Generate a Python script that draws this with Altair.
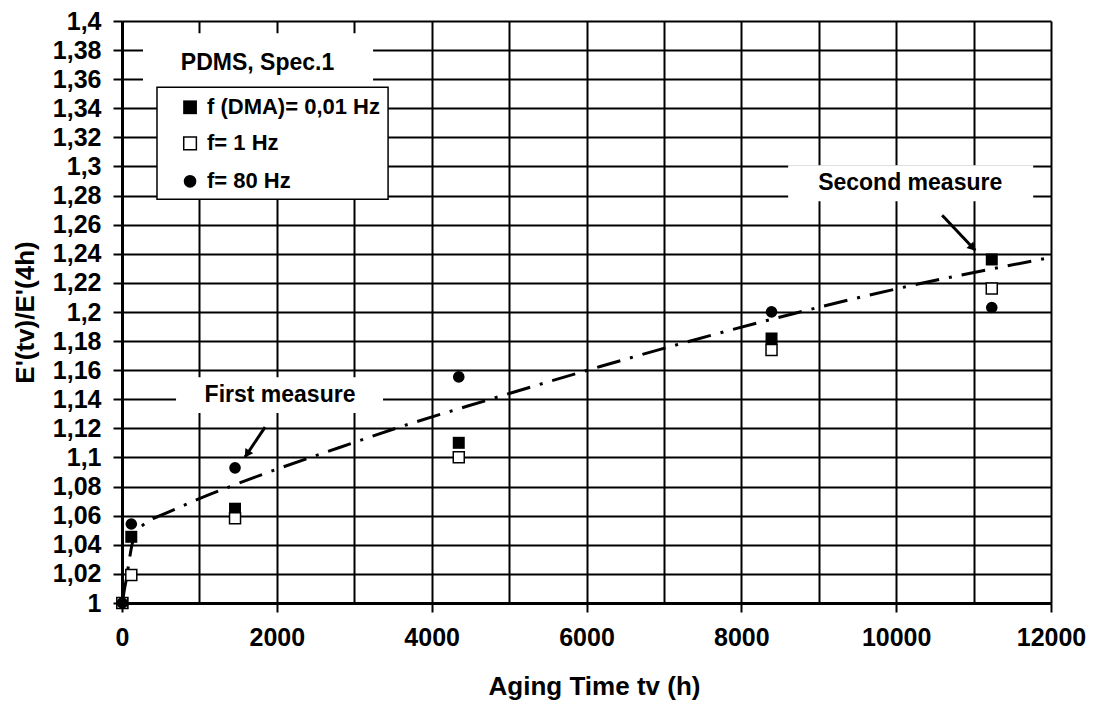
import altair as alt
import pandas as pd

# ---- data ----
hours = [4, 120, 1460, 4350, 8390, 11235]
f_001 = [1.000, 1.0455, 1.0648, 1.1101, 1.1818, 1.2361]   # f (DMA)= 0,01 Hz  (filled square)
f_1 = [1.000, 1.0192, 1.0582, 1.1001, 1.1738, 1.2161]     # f= 1 Hz (open square)
f_80 = [1.000, 1.0543, 1.0929, 1.1554, 1.2001, 1.2031]    # f= 80 Hz (filled circle)

trend_hours = [4, 30, 65, 90, 125, 194, 258, 362, 491, 711, 969, 1395, 1693, 2003,
               2800, 3592, 4755, 6176, 7235, 8721, 10052, 12000]
trend_ratio = [1.000, 1.009, 1.019, 1.028, 1.039, 1.050, 1.053, 1.057, 1.060, 1.065,
               1.071, 1.080, 1.086, 1.092, 1.1067, 1.121, 1.140, 1.1625, 1.1785,
               1.1995, 1.2165, 1.2375]

legend_title = "PDMS, Spec.1"
legend_labels = ["f (DMA)= 0,01 Hz", "f= 1 Hz", "f= 80 Hz"]
legend_rows = [1.3407, 1.3159, 1.2898]

notes = ["First measure", "Second measure"]
note_text_x = [2041, 10181]
note_text_y = [1.1429, 1.2885]
note_box_x = [698, 8605]
note_box_x2 = [3372, 11770]
note_box_y = [1.1305, 1.2761]
note_box_y2 = [1.1552, 1.3008]
arrow_from_x = [1848, 10594]
arrow_from_y = [1.1209, 1.2665]
arrow_to_x = [1589, 11021]
arrow_to_y = [1.1003, 1.2424]
arrow_head_x = [1625, 10977]
arrow_head_y = [1.1032, 1.2449]
arrow_angle = [214, 137]

x_ticks = list(range(0, 12001, 1000))
y_ticks = [round(1 + 0.02 * i, 2) for i in range(21)]

FONT = "Liberation Sans"

xs = alt.Scale(domain=[0, 12000], nice=False, zero=False)
ys = alt.Scale(domain=[1, 1.4], nice=False, zero=False)

X_AX = alt.Axis(
    values=x_ticks, grid=True, gridColor="black", gridWidth=2, gridOpacity=1,
    domainColor="black", domainWidth=3, tickColor="black", tickWidth=2, tickSize=9,
    tickOpacity={"condition": {"test": "datum.value % 2000 === 0", "value": 1}, "value": 0},
    labelExpr="datum.value % 2000 === 0 ? format(datum.value, 'd') : ''",
    labelFont=FONT, labelFontSize=25, labelFontWeight="bold", labelColor="black",
    labelPadding=13, labelFlush=False, labelOverlap=False,
    title="Aging Time tv (h)", titleFont=FONT, titleFontSize=26, titleFontWeight="bold",
    titleColor="black", titleX=472, titleY=91, titleBaseline="alphabetic",
)
Y_AX = alt.Axis(
    values=y_ticks, grid=True, gridColor="black", gridWidth=2, gridOpacity=1,
    domainColor="black", domainWidth=3, tickColor="black", tickWidth=2, tickSize=9,
    labelExpr="replace(format(datum.value, '.2~f'), '.', ',')",
    labelFont=FONT, labelFontSize=25, labelFontWeight="bold", labelColor="black",
    labelPadding=12, labelFlush=False, labelOverlap=False,
    title="E'(tv)/E'(4h)", titleFont=FONT, titleFontSize=26, titleFontWeight="bold",
    titleColor="black", titleX=-97, titleY=291, titleBaseline="middle", titleAngle=270,
)


def X(field):
    return alt.X(field, type="quantitative", scale=xs, axis=X_AX)


def Y(field):
    return alt.Y(field, type="quantitative", scale=ys, axis=Y_AX)


df_pts = pd.DataFrame({"h": hours, "a": f_001, "b": f_1, "c": f_80})
df_trend = pd.DataFrame({"h": trend_hours, "r": trend_ratio})

base = alt.Chart(df_pts)

# annotation boxes (white, hide grid)
df_notes = pd.DataFrame({
    "t": notes, "tx": note_text_x, "ty": note_text_y,
    "bx": note_box_x, "bx2": note_box_x2, "by": note_box_y, "by2": note_box_y2,
    "ax": arrow_from_x, "ay": arrow_from_y, "ax2": arrow_to_x, "ay2": arrow_to_y,
    "hx": arrow_head_x, "hy": arrow_head_y, "ang": arrow_angle,
})
note_boxes = alt.Chart(df_notes).mark_rect(fill="white").encode(
    x=X("bx"), x2="bx2:Q", y=Y("by"), y2="by2:Q",
)
note_text = alt.Chart(df_notes).mark_text(
    font=FONT, fontSize=23, fontWeight="bold", color="black", align="center", baseline="middle"
).encode(x=X("tx"), y=Y("ty"), text="t:N")
arrow_lines = alt.Chart(df_notes).mark_rule(color="black", strokeWidth=3).encode(
    x=X("ax"), x2="ax2:Q", y=Y("ay"), y2="ay2:Q",
)
arrow_heads = alt.Chart(df_notes).mark_point(
    shape="triangle", filled=True, color="black", size=90, opacity=1
).encode(x=X("hx"), y=Y("hy"), angle=alt.Angle("ang:Q", scale=None))

# legend (title box + bordered box)
df_leg_box = pd.DataFrame({"x": [271], "x2": [3243], "y": [1.3544], "y2": [1.3915]})
leg_title_box = alt.Chart(df_leg_box).mark_rect(fill="white").encode(
    x=X("x"), x2="x2:Q", y=Y("y"), y2="y2:Q",
)
df_leg_frame = pd.DataFrame({"x": [452], "x2": [3437], "y": [1.2775], "y2": [1.3544]})
leg_frame = alt.Chart(df_leg_frame).mark_rect(fill="white", stroke="black", strokeWidth=1.5).encode(
    x=X("x"), x2="x2:Q", y=Y("y"), y2="y2:Q",
)
df_leg_title = pd.DataFrame({"x": [1751], "y": [1.3709], "t": [legend_title]})
leg_title = alt.Chart(df_leg_title).mark_text(
    font=FONT, fontSize=23, fontWeight="bold", color="black", align="center", baseline="middle"
).encode(x=X("x"), y=Y("y"), text="t:N")

df_leg = pd.DataFrame({"mx": [879] * 3, "tx": [1098] * 3, "y": legend_rows, "t": legend_labels})
leg_text = alt.Chart(df_leg).mark_text(
    font=FONT, fontSize=22, fontWeight="bold", color="black", align="left", baseline="middle"
).encode(x=X("tx"), y=Y("y"), text="t:N")
leg_m1 = alt.Chart(df_leg.iloc[[0]]).mark_point(
    shape="square", filled=True, color="black", size=190, opacity=1
).encode(x=X("mx"), y=Y("y"))
leg_m2 = alt.Chart(df_leg.iloc[[1]]).mark_point(
    shape="square", filled=True, fill="white", stroke="black", strokeWidth=1.5, size=160, opacity=1
).encode(x=X("mx"), y=Y("y"))
leg_m3 = alt.Chart(df_leg.iloc[[2]]).mark_point(
    shape="circle", filled=True, color="black", size=160, opacity=1
).encode(x=X("mx"), y=Y("y"))

# trend line (dash-dot)
trend = alt.Chart(df_trend).mark_line(
    color="black", strokeWidth=3, strokeDash=[24, 10, 3, 10], interpolate="monotone"
).encode(x=X("h"), y=Y("r"))

# data series
s1 = base.mark_point(shape="square", filled=True, color="black", size=144, opacity=1).encode(
    x=X("h"), y=Y("a"))
s2 = base.mark_point(shape="square", filled=True, fill="white", stroke="black", strokeWidth=1.5,
                     size=121, opacity=1).encode(x=X("h"), y=Y("b"))
s3 = base.mark_point(shape="circle", filled=True, color="black", size=135, opacity=1).encode(
    x=X("h"), y=Y("c"))

chart = alt.layer(
    note_boxes, leg_title_box, leg_frame, trend, arrow_lines, arrow_heads,
    note_text, leg_title, leg_text, leg_m1, leg_m2, leg_m3, s1, s2, s3,
).properties(
    width=929, height=582,
    autosize=alt.AutoSizeParams(type="none"),
    padding={"left": 122, "top": 21, "right": 44, "bottom": 103},
    background="white",
).configure_view(stroke=None)

chart.save("out.html", embed_options={"renderer": "svg", "actions": False})
